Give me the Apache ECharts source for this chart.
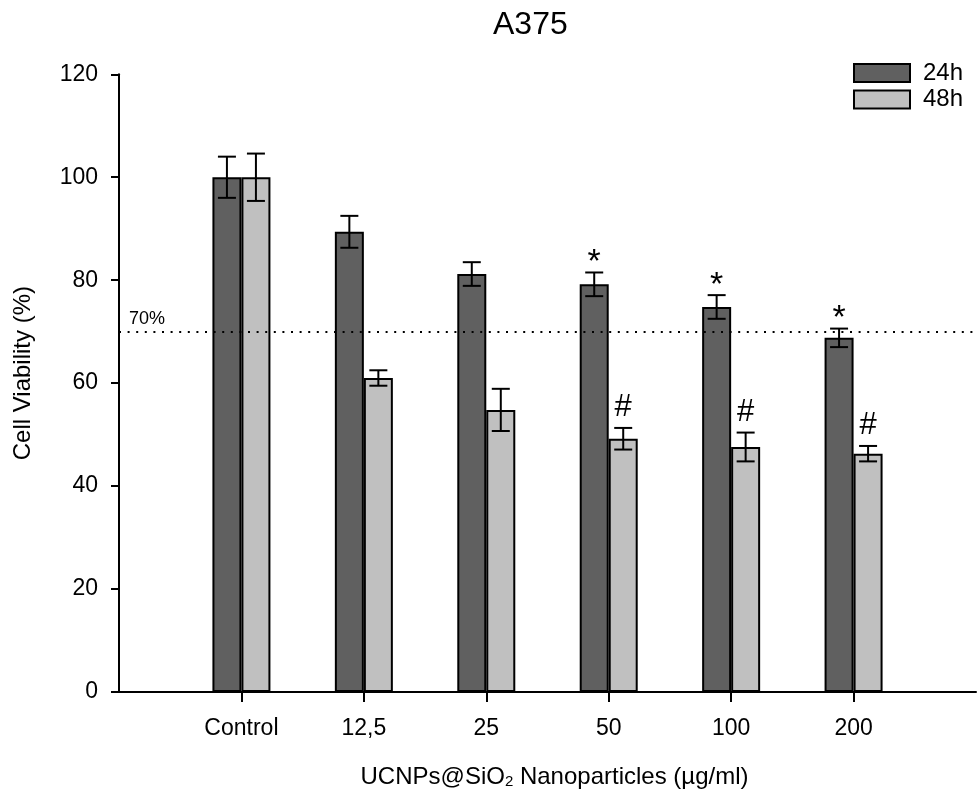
<!DOCTYPE html>
<html>
<head>
<meta charset="utf-8">
<script src="https://cdn.jsdelivr.net/npm/echarts@6/dist/echarts.min.js"></script>
<style>
html,body{margin:0;padding:0;background:#fff;}
#chart{width:979px;height:794px;}
</style>
</head>
<body>
<div id="chart"></div>
<script>
// ---- data ----
const categories = ['', 'Control', '12,5', '25', '50', '100', '200', ''];
const viability24 = [null, 100, 89.4, 81.2, 79.2, 74.8, 68.8, null];
const error24 = [null, 4.0, 3.1, 2.3, 2.3, 2.3, 1.8, null];
const viability48 = [null, 100, 61.0, 54.8, 49.2, 47.6, 46.3, null];
const error48 = [null, 4.6, 1.5, 4.1, 2.1, 2.8, 1.5, null];
const signif24 = ['', '', '', '', '*', '*', '*', ''];
const signif48 = ['', '', '', '', '#', '#', '#', ''];
const yTicks = [0, 20, 40, 60, 80, 100, 120];
const thresholdValue = 70;
const thresholdLabel = '70%';

const FONT = 'Liberation Sans, Arial, sans-serif';
const BAR_W = 29;
const DARK = '#606060';
const LIGHT = '#c0c0c0';

function errData(vals, errs) {
  const out = [];
  for (let i = 0; i < vals.length; i++) {
    if (vals[i] == null) continue;
    out.push([i, vals[i], errs[i]]);
  }
  return out;
}

function makeErrRender(offset, sigType) {
  return function (params, api) {
    const i = api.value(0);
    const v = api.value(1);
    const e = api.value(2);
    const c = api.coord([i, v]);
    const top = api.coord([i, v + e]);
    const bot = api.coord([i, v - e]);
    const x = c[0] + offset;
    const cap = 9;
    const style = { stroke: '#000', lineWidth: 2 };
    const children = [
      { type: 'line', shape: { x1: x, y1: top[1], x2: x, y2: bot[1] }, style: style },
      { type: 'line', shape: { x1: x - cap, y1: top[1], x2: x + cap, y2: top[1] }, style: style },
      { type: 'line', shape: { x1: x - cap, y1: bot[1], x2: x + cap, y2: bot[1] }, style: style }
    ];
    const s = sigType[i];
    if (s) {
      const star = s === '*';
      children.push({
        type: 'text',
        style: {
          text: s,
          x: x,
          y: top[1] - (star ? 10 : 20),
          align: 'center',
          verticalAlign: 'middle',
          font: (star ? '34px ' : '31px ') + FONT,
          fill: '#000'
        }
      });
    }
    return { type: 'group', children: children };
  };
}

const chart = echarts.init(document.getElementById('chart'), null, { renderer: 'canvas' });
chart.setOption({
  backgroundColor: '#fff',
  animation: false,
  textStyle: { fontFamily: FONT },
  title: {
    text: 'A375',
    left: 493,
    top: 9,
    padding: 0,
    textStyle: { fontSize: 32, fontWeight: 'normal', color: '#000', fontFamily: FONT }
  },
  legend: {
    data: ['24h', '48h'],
    orient: 'vertical',
    left: 853,
    top: 61,
    padding: 0,
    itemWidth: 56,
    itemHeight: 18,
    itemGap: 2.5,
    icon: 'rect',
    textStyle: { fontSize: 24, color: '#000', padding: [0, 0, 0, 8], fontFamily: FONT }
  },
  grid: { left: 119, right: 0, top: 74.3, bottom: 101.7, containLabel: false },
  xAxis: {
    type: 'category',
    data: categories,
    boundaryGap: false,
    name: 'UCNPs@SiO{sub|2} Nanoparticles (µg/ml)',
    nameLocation: 'middle',
    nameGap: 73,
    nameTextStyle: {
      fontSize: 24, color: '#000', fontFamily: FONT, padding: [0, 0, 0, 14],
      rich: { sub: { fontSize: 15, verticalAlign: 'bottom', fontFamily: FONT, color: '#000' } }
    },
    axisLine: { lineStyle: { color: '#000', width: 2 } },
    axisTick: {
      show: true, inside: false, length: 10,
      interval: function (index) { return index > 0 && index < categories.length - 1; },
      lineStyle: { color: '#000', width: 2 }
    },
    axisLabel: { interval: 0, fontSize: 23, color: '#000', margin: 25, fontFamily: FONT },
    splitLine: { show: false }
  },
  yAxis: {
    type: 'value',
    min: yTicks[0],
    max: yTicks[yTicks.length - 1],
    interval: 20,
    name: 'Cell Viability (%)',
    nameLocation: 'middle',
    nameRotate: 90,
    nameGap: 84,
    nameTextStyle: { fontSize: 24, color: '#000', fontFamily: FONT, padding: [0, 0, 0, 20] },
    axisLine: { show: true, lineStyle: { color: '#000', width: 2 } },
    axisTick: { show: true, inside: false, length: 8, lineStyle: { color: '#000', width: 2 } },
    axisLabel: { fontSize: 23, color: '#000', margin: 21, fontFamily: FONT },
    splitLine: { show: false }
  },
  series: [
    {
      name: '24h',
      type: 'bar',
      data: viability24,
      barWidth: BAR_W,
      barGap: '0%',
      itemStyle: { color: DARK, borderColor: '#000', borderWidth: 2 },
      z: 2,
      markLine: {
        silent: true,
        symbol: 'none',
        data: [{ yAxis: thresholdValue }],
        lineStyle: { color: '#000', width: 2, type: [2, 6.6] },
        label: {
          show: true,
          position: 'insideStartTop',
          formatter: thresholdLabel,
          fontSize: 18,
          color: '#000',
          fontFamily: FONT,
          distance: [10, 4]
        }
      }
    },
    {
      name: '48h',
      type: 'bar',
      data: viability48,
      barWidth: BAR_W,
      barGap: '0%',
      itemStyle: { color: LIGHT, borderColor: '#000', borderWidth: 2 },
      z: 2
    },
    {
      name: 'err24',
      type: 'custom',
      data: errData(viability24, error24),
      encode: { x: 0, y: 1 },
      renderItem: makeErrRender(-BAR_W / 2, signif24),
      z: 5,
      silent: true
    },
    {
      name: 'err48',
      type: 'custom',
      data: errData(viability48, error48),
      encode: { x: 0, y: 1 },
      renderItem: makeErrRender(BAR_W / 2, signif48),
      z: 5,
      silent: true
    }
  ]
});
</script>
</body>
</html>
